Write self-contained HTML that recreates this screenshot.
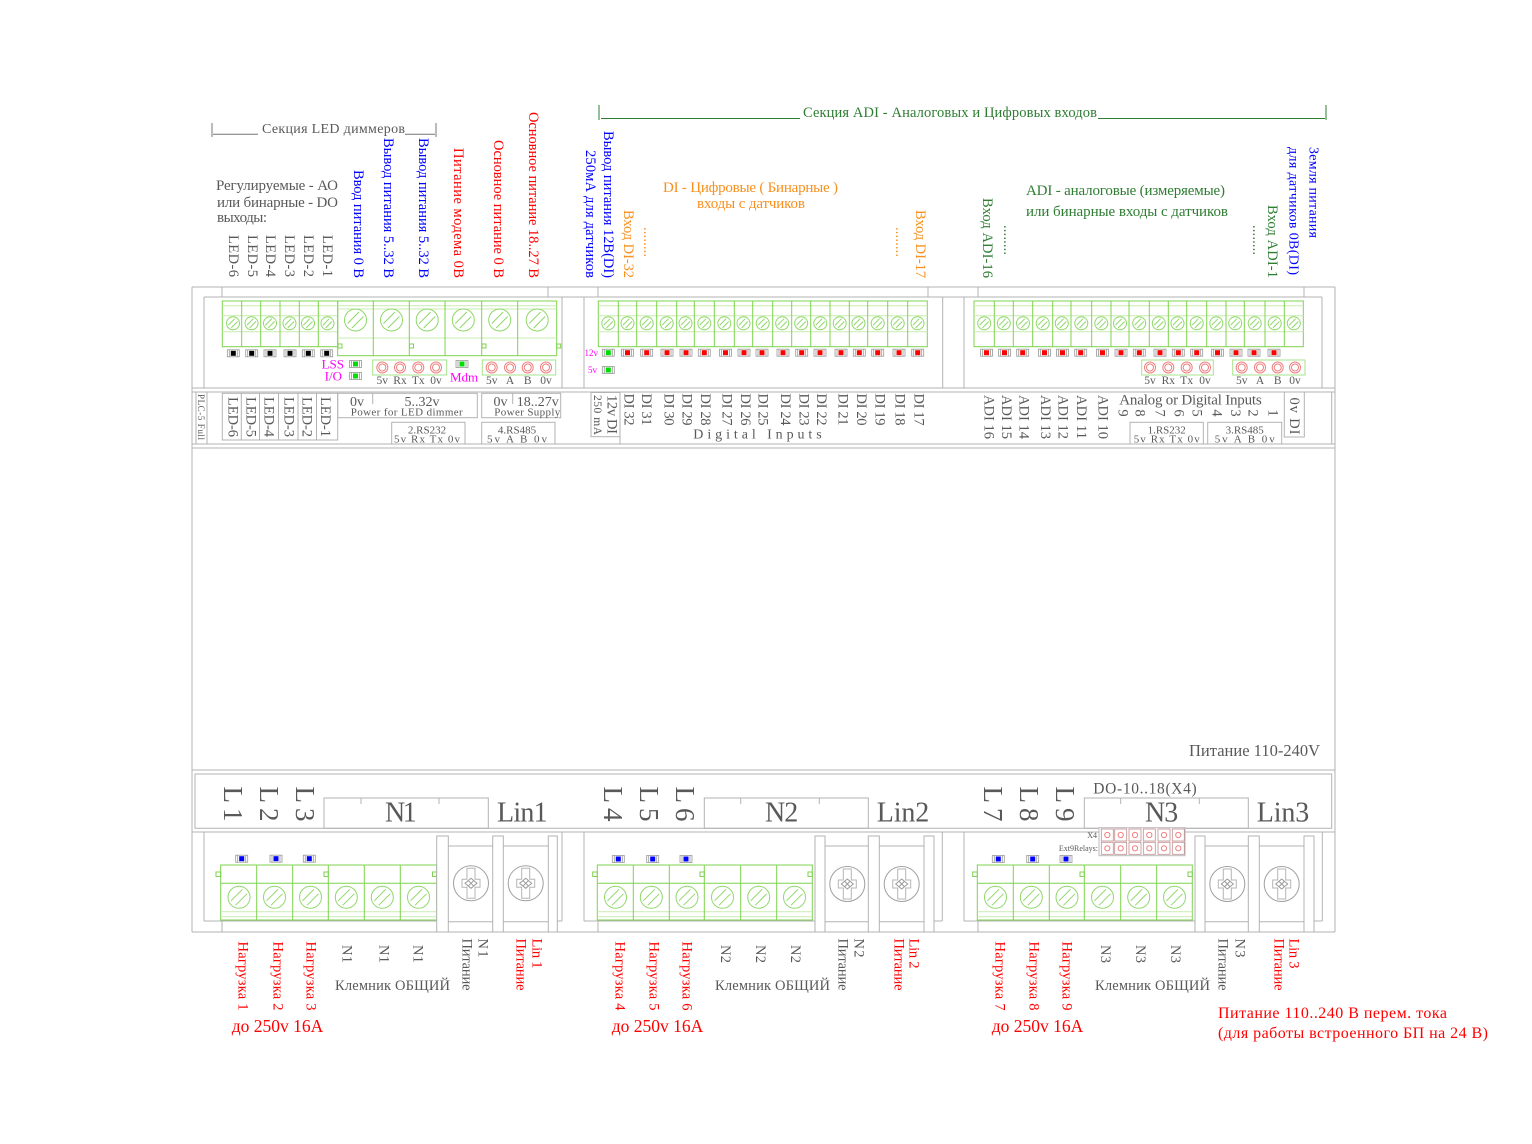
<!DOCTYPE html>
<html><head><meta charset="utf-8">
<style>
html,body{margin:0;padding:0;background:#fff;}
svg{display:block;}
text{font-family:"Liberation Serif","Noto Serif CJK SC",serif;}
.g{fill:#595959}.b{fill:#0000ff}.rd{fill:#ff0000}.o{fill:#f7901e}.gr{fill:#2e7d32}.m{fill:#ff00ff}
.c{dominant-baseline:central}
.ln{stroke:#b3b3b3;stroke-width:1;fill:none}
.tg{stroke:#7fd34e;stroke-width:1;fill:none}
.tl{stroke:#c8ecb0;stroke-width:1;fill:none}
</style></head>
<body>
<svg width="1532" height="1144" viewBox="0 0 1532 1144" xmlns="http://www.w3.org/2000/svg">
<defs>
<g id="ss"><circle r="6.5" fill="none" stroke="#8fd86a"/><path d="M-4.6,1.8 L1.8,-4.6 M-1.8,4.6 L4.6,-1.8" stroke="#8fd86a" fill="none"/></g>
<g id="sb"><circle r="11" fill="none" stroke="#8fd86a"/><path d="M-8,3.5 L3.5,-8 M-3.5,8 L8,-3.5" stroke="#8fd86a" fill="none"/></g>
<g id="bs"><circle r="17.5" fill="#fff" stroke="#a0a0a0"/><path d="M-4,-15 V-4 H-9 V4 H-4 V15 H4 V4 H9 V-4 H4 V-15 Z" fill="none" stroke="#b5b5b5"/><path d="M-6,0 L0,-5 L6,0 L0,5 Z M-3,-3 L3,3 M-3,3 L3,-3" fill="none" stroke="#9a9a9a"/></g>
<g id="lb"><rect x="-6" y="-3.5" width="12" height="7" fill="#fff" stroke="#999" stroke-width="0.8"/><path d="M-4,-3.5 V3.5 M4,-3.5 V3.5" stroke="#999" stroke-width="0.8"/></g>
<g id="lr"><use href="#lb"/><rect x="-2.5" y="-2.5" width="5" height="5" fill="#ff0000"/></g>
<g id="lk"><use href="#lb"/><rect x="-2.5" y="-2.5" width="5" height="5" fill="#000"/></g>
<g id="lgn"><use href="#lb"/><rect x="-2.5" y="-2.5" width="5" height="5" fill="#00dd00"/></g>
<g id="lbl"><use href="#lb"/><rect x="-2.5" y="-2.5" width="5" height="5" fill="#0000ff"/></g>
<g id="rc"><circle r="5.5" fill="none" stroke="#f08080"/><circle r="3.5" fill="none" stroke="#f08080"/></g>
<g id="rq"><rect x="-6" y="-6" width="12" height="12" fill="#fff" stroke="#c09090" stroke-width="0.8"/><circle r="2.6" fill="none" stroke="#f08080"/></g>
</defs>

<!-- ===== HEADERS ===== -->
<path d="M212,123 V137 M213,134.3 H258 M405,134.3 H435 M436,123 V137" stroke="#777" fill="none"/>
<text x="262" y="133" font-size="14" class="g" textLength="143">Секция LED диммеров</text>

<path d="M599,105 V120 M601,118.5 H800 M1098,118.5 H1325 M1326,105 V120" stroke="#2e7d32" fill="none"/>
<text x="803" y="117" font-size="14.5" class="gr" textLength="294">Секция ADI - Аналоговых и Цифровых входов</text>

<text x="216" y="190" font-size="15" class="g" textLength="122">Регулируемые - АО</text>
<text x="217" y="207" font-size="15" class="g" textLength="121">или бинарные - DO</text>
<text x="217" y="222" font-size="15" class="g" textLength="50">выходы:</text>

<text x="663" y="192" font-size="15" class="o" textLength="175">DI - Цифровые ( Бинарные )</text>
<text x="697" y="208" font-size="15" class="o" textLength="108">входы с датчиков</text>

<text x="1026" y="195" font-size="15" class="gr" textLength="199">ADI - аналоговые (измеряемые)</text>
<text x="1026" y="216" font-size="15" class="gr" textLength="202">или бинарные входы с датчиков</text>

<!-- rotated top labels -->
<g font-size="14.5" text-anchor="end">
<text class="g c" transform="translate(233,277) rotate(90)" textLength="42">LED-6</text>
<text class="g c" transform="translate(252,277) rotate(90)" textLength="42">LED-5</text>
<text class="g c" transform="translate(270,277) rotate(90)" textLength="42">LED-4</text>
<text class="g c" transform="translate(289,277) rotate(90)" textLength="42">LED-3</text>
<text class="g c" transform="translate(308,277) rotate(90)" textLength="42">LED-2</text>
<text class="g c" transform="translate(327,277) rotate(90)" textLength="42">LED-1</text>
<text class="b c" transform="translate(358,278) rotate(90)" textLength="108">Ввод питания 0 В</text>
<text class="b c" transform="translate(388,278) rotate(90)" textLength="140">Вывод питания 5..32 В</text>
<text class="b c" transform="translate(423,278) rotate(90)" textLength="140">Вывод питания 5..32 В</text>
<text class="rd c" transform="translate(458,278) rotate(90)" textLength="130">Питание модема 0В</text>
<text class="rd c" transform="translate(498,278) rotate(90)" textLength="138">Основное питание 0 В</text>
<text class="rd c" transform="translate(533,278) rotate(90)" textLength="166">Основное питание 18..27 В</text>
<text class="b c" transform="translate(608,278) rotate(90)" textLength="147">Вывод питания 12В(DI)</text>
<text class="b c" transform="translate(590,278) rotate(90)" textLength="128">250мА для датчиков</text>
<text class="o c" transform="translate(628,278) rotate(90)" textLength="68">Вход DI-32</text>
<text class="o c" transform="translate(648,257) rotate(90)" textLength="30">........</text>
<text class="o c" transform="translate(920,278) rotate(90)" textLength="68">Вход DI-17</text>
<text class="o c" transform="translate(900,257) rotate(90)" textLength="30">........</text>
<text class="gr c" transform="translate(987,278) rotate(90)" textLength="80">Вход ADI-16</text>
<text class="gr c" transform="translate(1008,255) rotate(90)" textLength="30">........</text>
<text class="gr c" transform="translate(1272,278) rotate(90)" textLength="73">Вход ADI-1</text>
<text class="gr c" transform="translate(1257,255) rotate(90)" textLength="30">........</text>
</g>
<g font-size="14" text-anchor="start">
<text class="b c" transform="translate(1313,147) rotate(90)" textLength="91">Земля питания</text>
<text class="b c" transform="translate(1293,147) rotate(90)" textLength="128">для датчиков 0В(DI)</text>
</g>

<!-- ===== FRAME ===== -->
<g class="ln">
<path d="M192,287 H1335 M192,287 V932 M1335,287 V932"/>
<path d="M222,287 V297 M548,287 V297 M598,287 V297 M928,287 V297 M978,287 V297 M1304,287 V297"/>
<path d="M204,297 H1322"/>
<path d="M204,297 V388 M562,297 V388 M584,297 V388 M942.7,297 V388 M964,297 V388 M1322,297 V388"/>
<path d="M192,388 H1335 M192,392 H1335 M192,444 H1335 M192,448 H1335"/>
<path d="M192,770 H1335 M195,774 H1331.7 V828.3 H195 Z M192,832 H1335 M192,932 H1335"/>
<path d="M204,832 V921 M562,832 V921 M584,832 V921 M942.3,832 V921 M964,832 V921 M1322.3,832 V921"/>
<path d="M204,921 H437 M557,921 H562 M584,921 H815 M934,921 H942.3 M964,921 H1195 M1314,921 H1322.3"/>
<path d="M222,921 V932 M598,921 V932 M978,921 V932"/>
</g>

<!-- ===== UPPER SECTION 1 terminals ===== -->
<rect x="222.3" y="301" width="115.4" height="45.7" class="tg"/>
<path class="tl" d="M222.3,305.7 H337.7 M222.3,315.7 H337.7 M222.3,331.7 H337.7"/>
<path class="tg" d="M241.7,301 V346.7 M260.7,301 V346.7 M280,301 V346.7 M299.3,301 V346.7 M318.3,301 V346.7"/>
<use href="#ss" x="233" y="323.3"/><use href="#ss" x="251.5" y="323.3"/><use href="#ss" x="270" y="323.3"/>
<use href="#ss" x="289.5" y="323.3"/><use href="#ss" x="308" y="323.3"/><use href="#ss" x="327.5" y="323.3"/>

<rect x="337.7" y="301" width="219" height="54.7" class="tg"/>
<path class="tl" d="M337.7,305.7 H556.7 M337.7,309 H556.7 M337.7,338 H556.7"/>
<path class="tg" d="M373.3,301 V355.7 M409.3,301 V355.7 M445,301 V355.7 M481.7,301 V355.7 M517.7,301 V355.7"/>
<g class="tg"><rect x="338" y="344" width="4" height="4"/><rect x="409.5" y="344" width="4" height="4"/><rect x="482" y="344" width="4" height="4"/><rect x="556.7" y="344" width="4" height="4"/></g>
<use href="#sb" x="355.5" y="320"/><use href="#sb" x="391.5" y="320"/><use href="#sb" x="427.2" y="320"/>
<use href="#sb" x="463.3" y="320"/><use href="#sb" x="499.7" y="320"/><use href="#sb" x="537.2" y="320"/>

<use href="#lk" x="233.3" y="353.3"/><use href="#lk" x="251.7" y="353.3"/><use href="#lk" x="270" y="353.3"/>
<use href="#lk" x="290" y="353.3"/><use href="#lk" x="308.3" y="353.3"/><use href="#lk" x="326.7" y="353.3"/>

<text x="344" y="364" font-size="13" class="m c" text-anchor="end">LSS</text>
<text x="342" y="376" font-size="13" class="m c" text-anchor="end">I/O</text>
<use href="#lgn" x="355.5" y="364"/><use href="#lgn" x="355.5" y="376"/>
<rect x="372.7" y="360" width="74" height="15" fill="none" stroke="#a6e38a"/>
<use href="#rc" x="382.3" y="367.5"/><use href="#rc" x="400" y="367.5"/><use href="#rc" x="418.3" y="367.5"/><use href="#rc" x="436" y="367.5"/>
<g font-size="11.5" class="g" text-anchor="middle">
<text x="382.3" y="384">5v</text><text x="400" y="384">Rx</text><text x="418.3" y="384">Tx</text><text x="436" y="384">0v</text>
<text x="491.7" y="384">5v</text><text x="510" y="384">A</text><text x="527.7" y="384">B</text><text x="546" y="384">0v</text>
</g>
<use href="#lgn" x="462" y="364"/>
<text x="450" y="377" font-size="13" class="m c">Mdm</text>
<rect x="482.3" y="360" width="73.4" height="15" fill="none" stroke="#a6e38a"/>
<use href="#rc" x="491.7" y="367.5"/><use href="#rc" x="510" y="367.5"/><use href="#rc" x="527.7" y="367.5"/><use href="#rc" x="546" y="367.5"/>

<!-- ===== UPPER SECTION 2 ===== -->
<rect x="598.3" y="301" width="329" height="45.7" class="tg"/>
<path class="tl" d="M598.3,305.7 H927.3 M598.3,315.7 H927.3 M598.3,331.7 H927.3"/>
<path class="tg" d="M618.3,301 V346.7 M636.7,301 V346.7 M656.7,301 V346.7 M676.7,301 V346.7 M694.3,301 V346.7 M714.3,301 V346.7 M734.3,301 V346.7 M752.7,301 V346.7 M772.7,301 V346.7 M791.7,301 V346.7 M810.7,301 V346.7 M830,301 V346.7 M849.3,301 V346.7 M867.7,301 V346.7 M887.7,301 V346.7 M907.7,301 V346.7"/>
<use href="#ss" x="608.3" y="323.3"/><use href="#ss" x="627.5" y="323.3"/><use href="#ss" x="646.7" y="323.3"/><use href="#ss" x="666.7" y="323.3"/>
<use href="#ss" x="685.5" y="323.3"/><use href="#ss" x="704.3" y="323.3"/><use href="#ss" x="724.3" y="323.3"/><use href="#ss" x="743.5" y="323.3"/>
<use href="#ss" x="762.7" y="323.3"/><use href="#ss" x="782.2" y="323.3"/><use href="#ss" x="801.2" y="323.3"/><use href="#ss" x="820.3" y="323.3"/>
<use href="#ss" x="839.7" y="323.3"/><use href="#ss" x="858.5" y="323.3"/><use href="#ss" x="877.7" y="323.3"/><use href="#ss" x="897.7" y="323.3"/><use href="#ss" x="917.5" y="323.3"/>
<use href="#lgn" x="608.3" y="352.7"/>
<use href="#lr" x="627.5" y="352.7"/><use href="#lr" x="646.7" y="352.7"/><use href="#lr" x="667" y="352.7"/><use href="#lr" x="686" y="352.7"/>
<use href="#lr" x="704.3" y="352.7"/><use href="#lr" x="725.5" y="352.7"/><use href="#lr" x="744" y="352.7"/><use href="#lr" x="762" y="352.7"/>
<use href="#lr" x="783" y="352.7"/><use href="#lr" x="801.7" y="352.7"/><use href="#lr" x="820" y="352.7"/><use href="#lr" x="841" y="352.7"/>
<use href="#lr" x="859.3" y="352.7"/><use href="#lr" x="877.7" y="352.7"/><use href="#lr" x="899" y="352.7"/><use href="#lr" x="917.7" y="352.7"/>
<text x="598" y="353" font-size="9" class="m c" text-anchor="end">12v</text>
<text x="597" y="370" font-size="9" class="m c" text-anchor="end">5v</text>
<use href="#lgn" x="608.3" y="370"/>

<!-- ===== UPPER SECTION 3 ===== -->
<rect x="974" y="301" width="329.3" height="45.7" class="tg"/>
<path class="tl" d="M974,305.7 H1303.3 M974,315.7 H1303.3 M974,331.7 H1303.3"/>
<path class="tg" d="M994.3,301 V346.7 M1013.3,301 V346.7 M1032.7,301 V346.7 M1052.7,301 V346.7 M1071,301 V346.7 M1091.7,301 V346.7 M1111,301 V346.7 M1129,301 V346.7 M1149.3,301 V346.7 M1168.3,301 V346.7 M1186.7,301 V346.7 M1206.7,301 V346.7 M1226,301 V346.7 M1244.3,301 V346.7 M1265,301 V346.7 M1284.3,301 V346.7"/>
<use href="#ss" x="984.2" y="323.3"/><use href="#ss" x="1003.8" y="323.3"/><use href="#ss" x="1023" y="323.3"/><use href="#ss" x="1042.7" y="323.3"/>
<use href="#ss" x="1061.8" y="323.3"/><use href="#ss" x="1081.3" y="323.3"/><use href="#ss" x="1101.3" y="323.3"/><use href="#ss" x="1120" y="323.3"/>
<use href="#ss" x="1139.2" y="323.3"/><use href="#ss" x="1158.8" y="323.3"/><use href="#ss" x="1177.5" y="323.3"/><use href="#ss" x="1196.7" y="323.3"/>
<use href="#ss" x="1216.3" y="323.3"/><use href="#ss" x="1235.2" y="323.3"/><use href="#ss" x="1254.7" y="323.3"/><use href="#ss" x="1274.7" y="323.3"/><use href="#ss" x="1293.8" y="323.3"/>
<use href="#lr" x="986.5" y="352.7"/><use href="#lr" x="1004.5" y="352.7"/><use href="#lr" x="1022.7" y="352.7"/><use href="#lr" x="1044.5" y="352.7"/>
<use href="#lr" x="1062.5" y="352.7"/><use href="#lr" x="1080.7" y="352.7"/><use href="#lr" x="1102.5" y="352.7"/><use href="#lr" x="1121" y="352.7"/>
<use href="#lr" x="1139.3" y="352.7"/><use href="#lr" x="1160" y="352.7"/><use href="#lr" x="1178.3" y="352.7"/><use href="#lr" x="1196.7" y="352.7"/>
<use href="#lr" x="1217.5" y="352.7"/><use href="#lr" x="1236" y="352.7"/><use href="#lr" x="1254" y="352.7"/><use href="#lr" x="1274" y="352.7"/>
<rect x="1141.7" y="360" width="71.6" height="15" fill="none" stroke="#a6e38a"/>
<use href="#rc" x="1150" y="367.5"/><use href="#rc" x="1168.3" y="367.5"/><use href="#rc" x="1186.7" y="367.5"/><use href="#rc" x="1205" y="367.5"/>
<rect x="1232.7" y="360" width="72.3" height="15" fill="none" stroke="#a6e38a"/>
<use href="#rc" x="1241.7" y="367.5"/><use href="#rc" x="1260" y="367.5"/><use href="#rc" x="1277.7" y="367.5"/><use href="#rc" x="1295" y="367.5"/>
<g font-size="11.5" class="g" text-anchor="middle">
<text x="1150" y="384">5v</text><text x="1168.3" y="384">Rx</text><text x="1186.7" y="384">Tx</text><text x="1205" y="384">0v</text>
<text x="1241.7" y="384">5v</text><text x="1260" y="384">A</text><text x="1277.7" y="384">B</text><text x="1295" y="384">0v</text>
</g>

<!-- ===== LABEL STRIP ===== -->
<g class="ln">
<rect x="196" y="392" width="11" height="52"/>
<rect x="222.3" y="393.3" width="115.4" height="46.7"/>
<path d="M241.3,393.3 V440 M259.5,393.3 V440 M278.5,393.3 V440 M298,393.3 V440 M316.5,393.3 V440"/>
<rect x="337.7" y="393.3" width="139.6" height="24.4"/>
<path d="M372.7,393.3 V404"/>
<rect x="481.7" y="393.3" width="79" height="24.4"/>
<path d="M512.7,393.3 V404"/>
<rect x="391.7" y="422.3" width="73.3" height="21.7"/>
<rect x="481.7" y="422.3" width="73.3" height="21.7"/>
<rect x="591" y="392.5" width="29" height="44.2"/>
<path d="M620,392 V444"/>
<rect x="1130" y="422.3" width="73.3" height="21.7"/>
<rect x="1207.7" y="422.3" width="74" height="21.7"/>
<rect x="1284.3" y="392" width="20" height="45"/>
<path d="M1331.7,392 V444"/>
</g>
<text class="g c" transform="translate(201,394) rotate(90)" font-size="9" textLength="46">PLC-5 Full</text>
<g font-size="14.5" class="g">
<text class="c" transform="translate(232.3,397) rotate(90)" textLength="40">LED-6</text>
<text class="c" transform="translate(250.3,397) rotate(90)" textLength="40">LED-5</text>
<text class="c" transform="translate(268.5,397) rotate(90)" textLength="40">LED-4</text>
<text class="c" transform="translate(288.3,397) rotate(90)" textLength="40">LED-3</text>
<text class="c" transform="translate(306.7,397) rotate(90)" textLength="40">LED-2</text>
<text class="c" transform="translate(325,397) rotate(90)" textLength="40">LED-1</text>
</g>
<g class="g" font-size="14">
<text x="350" y="406">0v</text>
<text x="422" y="406" text-anchor="middle">5..32v</text>
<text x="493.5" y="406">0v</text>
<text x="537.7" y="406" text-anchor="middle">18..27v</text>
</g>
<g class="g" font-size="11" text-anchor="middle">
<text x="406.7" y="415.7" textLength="112">Power for LED dimmer</text>
<text x="527.3" y="415.7" textLength="66">Power Supply</text>
<text x="427" y="433.5">2.RS232</text>
<text x="427" y="442.5" textLength="66">5v  Rx  Tx  0v</text>
<text x="517" y="433.5">4.RS485</text>
<text x="517" y="442.5" textLength="60">5v  A  B  0v</text>
<text x="1166.7" y="433.5">1.RS232</text>
<text x="1166.7" y="442.5" textLength="66">5v  Rx  Tx  0v</text>
<text x="1244.7" y="433.5">3.RS485</text>
<text x="1244.7" y="442.5" textLength="60">5v  A  B  0v</text>
</g>
<text class="g c" transform="translate(611.7,395) rotate(90)" font-size="14.5" textLength="39">12v DI</text>
<text class="g c" transform="translate(597,395) rotate(90)" font-size="11.5" textLength="40">250 mA</text>
<g font-size="14.5" class="g">
<text class="c" transform="translate(628.3,393.5) rotate(90)" textLength="32">DI 32</text>
<text class="c" transform="translate(646,393.5) rotate(90)" textLength="32">DI 31</text>
<text class="c" transform="translate(668.3,393.5) rotate(90)" textLength="32">DI 30</text>
<text class="c" transform="translate(686.7,393.5) rotate(90)" textLength="32">DI 29</text>
<text class="c" transform="translate(705,393.5) rotate(90)" textLength="32">DI 28</text>
<text class="c" transform="translate(726.7,393.5) rotate(90)" textLength="32">DI 27</text>
<text class="c" transform="translate(745,393.5) rotate(90)" textLength="32">DI 26</text>
<text class="c" transform="translate(762.7,393.5) rotate(90)" textLength="32">DI 25</text>
<text class="c" transform="translate(785,393.5) rotate(90)" textLength="32">DI 24</text>
<text class="c" transform="translate(803.3,393.5) rotate(90)" textLength="32">DI 23</text>
<text class="c" transform="translate(821,393.5) rotate(90)" textLength="32">DI 22</text>
<text class="c" transform="translate(842.7,393.5) rotate(90)" textLength="32">DI 21</text>
<text class="c" transform="translate(861,393.5) rotate(90)" textLength="32">DI 20</text>
<text class="c" transform="translate(879.3,393.5) rotate(90)" textLength="32">DI 19</text>
<text class="c" transform="translate(899.3,393.5) rotate(90)" textLength="32">DI 18</text>
<text class="c" transform="translate(918.3,393.5) rotate(90)" textLength="32">DI 17</text>
<text class="c" transform="translate(988.3,395) rotate(90)" textLength="44">ADI 16</text>
<text class="c" transform="translate(1006,395) rotate(90)" textLength="44">ADI 15</text>
<text class="c" transform="translate(1023.3,395) rotate(90)" textLength="44">ADI 14</text>
<text class="c" transform="translate(1045,395) rotate(90)" textLength="44">ADI 13</text>
<text class="c" transform="translate(1062.7,395) rotate(90)" textLength="44">ADI 12</text>
<text class="c" transform="translate(1081,395) rotate(90)" textLength="44">ADI 11</text>
<text class="c" transform="translate(1102.7,395) rotate(90)" textLength="44">ADI 10</text>
</g>
<g font-size="14.5" class="g" text-anchor="middle">
<text class="c" transform="translate(1122.3,413) rotate(90)">9</text>
<text class="c" transform="translate(1139.3,413) rotate(90)">8</text>
<text class="c" transform="translate(1159.3,413) rotate(90)">7</text>
<text class="c" transform="translate(1178.3,413) rotate(90)">6</text>
<text class="c" transform="translate(1196.7,413) rotate(90)">5</text>
<text class="c" transform="translate(1216.7,413) rotate(90)">4</text>
<text class="c" transform="translate(1235,413) rotate(90)">3</text>
<text class="c" transform="translate(1252.7,413) rotate(90)">2</text>
<text class="c" transform="translate(1272.7,413) rotate(90)">1</text>
</g>
<text class="g c" transform="translate(1294,397.5) rotate(90)" font-size="14.5" textLength="37">0v DI</text>
<text x="1119.3" y="404.5" font-size="15" class="g" textLength="142.4">Analog or Digital Inputs</text>
<text x="693.3" y="438.5" font-size="14" class="g" textLength="128.4">Digital Inputs</text>

<text x="1189" y="756" font-size="16.5" class="g" textLength="131">Питание 110-240V</text>

<!-- ===== LOWER TOP LABEL BOX ===== -->
<g class="ln">
<rect x="324" y="798" width="164.3" height="30.3"/><path d="M361,798 V804 M439,798 V804"/>
<rect x="704.3" y="798" width="164" height="30.3"/><path d="M740.7,798 V804 M819.3,798 V804"/>
<rect x="1084.3" y="798" width="164" height="30.3"/><path d="M1120.7,798 V804 M1199.3,798 V804"/>
</g>
<g font-size="27" class="g">
<text class="c" transform="translate(233,786.5) rotate(90)" textLength="35">L 1</text>
<text class="c" transform="translate(269,786.5) rotate(90)" textLength="35">L 2</text>
<text class="c" transform="translate(305,786.5) rotate(90)" textLength="35">L 3</text>
<text class="c" transform="translate(613,786.5) rotate(90)" textLength="35">L 4</text>
<text class="c" transform="translate(649,786.5) rotate(90)" textLength="35">L 5</text>
<text class="c" transform="translate(685,786.5) rotate(90)" textLength="35">L 6</text>
<text class="c" transform="translate(993,786.5) rotate(90)" textLength="35">L 7</text>
<text class="c" transform="translate(1029,786.5) rotate(90)" textLength="35">L 8</text>
<text class="c" transform="translate(1065,786.5) rotate(90)" textLength="35">L 9</text>
</g>
<g font-size="28" class="g">
<text x="385" y="821.7" textLength="31.7">N1</text>
<text x="497" y="821.7" textLength="50.6">Lin1</text>
<text x="765" y="821.7" textLength="33.3">N2</text>
<text x="876.7" y="821.7" textLength="52.6">Lin2</text>
<text x="1145" y="821.7" textLength="33.3">N3</text>
<text x="1256.7" y="821.7" textLength="52.6">Lin3</text>
</g>
<text x="1093.3" y="793.5" font-size="15.5" class="g" textLength="103.4">DO-10..18(X4)</text>

<!-- ===== LOWER TERMINALS ===== -->
<!-- section 1 -->
<rect x="220.7" y="865" width="216" height="55" class="tg"/>
<path class="tl" d="M220.7,911.7 H436.7 M220.7,916.7 H436.7"/>
<path class="tg" d="M220.7,883.3 H436.7 M256.7,865 V920 M292.7,865 V920 M328.3,865 V920 M364.3,865 V920 M400.3,865 V920"/>
<g class="tg"><rect x="216" y="872" width="4.7" height="4.5"/><rect x="324" y="872" width="4.3" height="4.5"/><rect x="432.5" y="872" width="4.2" height="4.5"/></g>
<use href="#sb" x="239" y="897.3"/><use href="#sb" x="274.5" y="897.3"/><use href="#sb" x="310.5" y="897.3"/>
<use href="#sb" x="346.3" y="897.3"/><use href="#sb" x="382.3" y="897.3"/><use href="#sb" x="418.5" y="897.3"/>
<use href="#lbl" x="241.7" y="858.7"/><use href="#lbl" x="276" y="858.7"/><use href="#lbl" x="309.3" y="858.7"/>
<g class="ln" fill="#fff">
<rect x="436.7" y="836" width="11.6" height="96" fill="#fff"/>
<rect x="492.7" y="836" width="10.6" height="96" fill="#fff"/>
<rect x="548.3" y="836" width="9" height="96" fill="#fff"/>
<path d="M448.3,846 H492.7 M448.3,921.7 H492.7 M503.3,846 H548.3 M503.3,921.7 H548.3"/>
</g>
<use href="#bs" x="471" y="883.3"/><use href="#bs" x="525.7" y="883.3"/>

<!-- section 2 -->
<rect x="597.3" y="865" width="215" height="55" class="tg"/>
<path class="tl" d="M597.3,911.7 H812.3 M597.3,916.7 H812.3"/>
<path class="tg" d="M597.3,883.3 H812.3 M633.3,865 V920 M669.3,865 V920 M704.3,865 V920 M740.7,865 V920 M776.7,865 V920"/>
<g class="tg"><rect x="592.7" y="872" width="4.6" height="4.5"/><rect x="700" y="872" width="4.3" height="4.5"/><rect x="808" y="872" width="4.3" height="4.5"/></g>
<use href="#sb" x="615.5" y="897.3"/><use href="#sb" x="651.3" y="897.3"/><use href="#sb" x="687" y="897.3"/>
<use href="#sb" x="722.5" y="897.3"/><use href="#sb" x="758.7" y="897.3"/><use href="#sb" x="794.5" y="897.3"/>
<use href="#lbl" x="618.3" y="859"/><use href="#lbl" x="652.7" y="859"/><use href="#lbl" x="686" y="859"/>
<g class="ln">
<rect x="815" y="836" width="10" height="96" fill="#fff"/>
<rect x="868.3" y="836" width="11" height="96" fill="#fff"/>
<rect x="924" y="836" width="10" height="96" fill="#fff"/>
<path d="M825,846 H868.3 M825,921.7 H868.3 M879.3,846 H924 M879.3,921.7 H924"/>
</g>
<use href="#bs" x="847.3" y="884"/><use href="#bs" x="901.7" y="884"/>

<!-- section 3 -->
<rect x="977.3" y="865" width="215" height="55" class="tg"/>
<path class="tl" d="M977.3,911.7 H1192.3 M977.3,916.7 H1192.3"/>
<path class="tg" d="M977.3,883.3 H1192.3 M1013.3,865 V920 M1049.3,865 V920 M1084.3,865 V920 M1120.7,865 V920 M1156.7,865 V920"/>
<g class="tg"><rect x="972.7" y="872" width="4.6" height="4.5"/><rect x="1080" y="872" width="4.3" height="4.5"/><rect x="1188" y="872" width="4.3" height="4.5"/></g>
<use href="#sb" x="995.5" y="897.3"/><use href="#sb" x="1031.3" y="897.3"/><use href="#sb" x="1067" y="897.3"/>
<use href="#sb" x="1102.5" y="897.3"/><use href="#sb" x="1138.7" y="897.3"/><use href="#sb" x="1174.5" y="897.3"/>
<use href="#lbl" x="998.3" y="859"/><use href="#lbl" x="1032.7" y="859"/><use href="#lbl" x="1066" y="859"/>
<g class="ln">
<rect x="1195" y="836" width="10" height="96" fill="#fff"/>
<rect x="1248.3" y="836" width="11" height="96" fill="#fff"/>
<rect x="1304" y="836" width="10" height="96" fill="#fff"/>
<path d="M1205,846 H1248.3 M1205,921.7 H1248.3 M1259.3,846 H1304 M1259.3,921.7 H1304"/>
</g>
<use href="#bs" x="1227.3" y="884"/><use href="#bs" x="1281.7" y="884"/>

<!-- ext relays -->
<rect x="1099" y="827.7" width="86" height="28" fill="#fff" stroke="#bbb"/>
<use href="#rq" x="1107.3" y="835"/><use href="#rq" x="1120.7" y="835"/><use href="#rq" x="1135" y="835"/><use href="#rq" x="1149.3" y="835"/><use href="#rq" x="1164" y="835"/><use href="#rq" x="1178.3" y="835"/>
<use href="#rq" x="1107.3" y="848.3"/><use href="#rq" x="1120.7" y="848.3"/><use href="#rq" x="1135" y="848.3"/><use href="#rq" x="1149.3" y="848.3"/><use href="#rq" x="1164" y="848.3"/><use href="#rq" x="1178.3" y="848.3"/>
<text x="1097" y="838" font-size="8" class="g" text-anchor="end">X4</text>
<text x="1098" y="851" font-size="8" class="g" text-anchor="end">Ext9Relays:</text>

<!-- ===== LOWER ROTATED LABELS ===== -->
<g font-size="14.5">
<text class="rd c" transform="translate(242.3,941.5) rotate(90)" textLength="69">Нагрузка 1</text>
<text class="rd c" transform="translate(277.3,941.5) rotate(90)" textLength="69">Нагрузка 2</text>
<text class="rd c" transform="translate(310.7,941.5) rotate(90)" textLength="69">Нагрузка 3</text>
<text class="rd c" transform="translate(619.3,941.5) rotate(90)" textLength="69">Нагрузка 4</text>
<text class="rd c" transform="translate(653.3,941.5) rotate(90)" textLength="69">Нагрузка 5</text>
<text class="rd c" transform="translate(686.7,941.5) rotate(90)" textLength="69">Нагрузка 6</text>
<text class="rd c" transform="translate(999.3,941.5) rotate(90)" textLength="69">Нагрузка 7</text>
<text class="rd c" transform="translate(1033.3,941.5) rotate(90)" textLength="69">Нагрузка 8</text>
<text class="rd c" transform="translate(1066.7,941.5) rotate(90)" textLength="69">Нагрузка 9</text>

<text class="g c" transform="translate(346.7,945) rotate(90)" textLength="18">N 1</text>
<text class="g c" transform="translate(383.3,945) rotate(90)" textLength="18">N 1</text>
<text class="g c" transform="translate(417.3,945) rotate(90)" textLength="18">N 1</text>
<text class="g c" transform="translate(725,945) rotate(90)" textLength="18">N 2</text>
<text class="g c" transform="translate(760,945) rotate(90)" textLength="18">N 2</text>
<text class="g c" transform="translate(795,945) rotate(90)" textLength="18">N 2</text>
<text class="g c" transform="translate(1105,945) rotate(90)" textLength="18">N 3</text>
<text class="g c" transform="translate(1140,945) rotate(90)" textLength="18">N 3</text>
<text class="g c" transform="translate(1175,945) rotate(90)" textLength="18">N 3</text>

<text class="g c" transform="translate(482.7,938.5) rotate(90)" textLength="19">N 1</text>
<text class="g c" transform="translate(466.7,938.5) rotate(90)" textLength="52">Питание</text>
<text class="rd c" transform="translate(536.7,938.5) rotate(90)" textLength="30">Lin 1</text>
<text class="rd c" transform="translate(520.5,938.5) rotate(90)" textLength="52">Питание</text>
<text class="g c" transform="translate(858.3,938.5) rotate(90)" textLength="19">N 2</text>
<text class="g c" transform="translate(842.7,938.5) rotate(90)" textLength="52">Питание</text>
<text class="rd c" transform="translate(913.3,938.5) rotate(90)" textLength="30">Lin 2</text>
<text class="rd c" transform="translate(898.3,938.5) rotate(90)" textLength="52">Питание</text>
<text class="g c" transform="translate(1239.3,938.5) rotate(90)" textLength="19">N 3</text>
<text class="g c" transform="translate(1222.7,938.5) rotate(90)" textLength="52">Питание</text>
<text class="rd c" transform="translate(1293.3,938.5) rotate(90)" textLength="30">Lin 3</text>
<text class="rd c" transform="translate(1278.3,938.5) rotate(90)" textLength="52">Питание</text>
</g>
<g font-size="14.5" class="g">
<text x="335" y="990" textLength="115">Клемник ОБЩИЙ</text>
<text x="715" y="990" textLength="115">Клемник ОБЩИЙ</text>
<text x="1095" y="990" textLength="115">Клемник ОБЩИЙ</text>
</g>
<g font-size="17.5" class="rd">
<text x="231.7" y="1032" textLength="91.6">до 250v 16A</text>
<text x="611.7" y="1032" textLength="91.6">до 250v 16A</text>
<text x="991.7" y="1032" textLength="91.6">до 250v 16A</text>
</g>
<g font-size="16" class="rd">
<text x="1218" y="1018" textLength="229">Питание 110..240 В перем. тока</text>
<text x="1218" y="1038" textLength="270">(для работы встроенного БП на 24 В)</text>
</g>
</svg>
</body></html>
